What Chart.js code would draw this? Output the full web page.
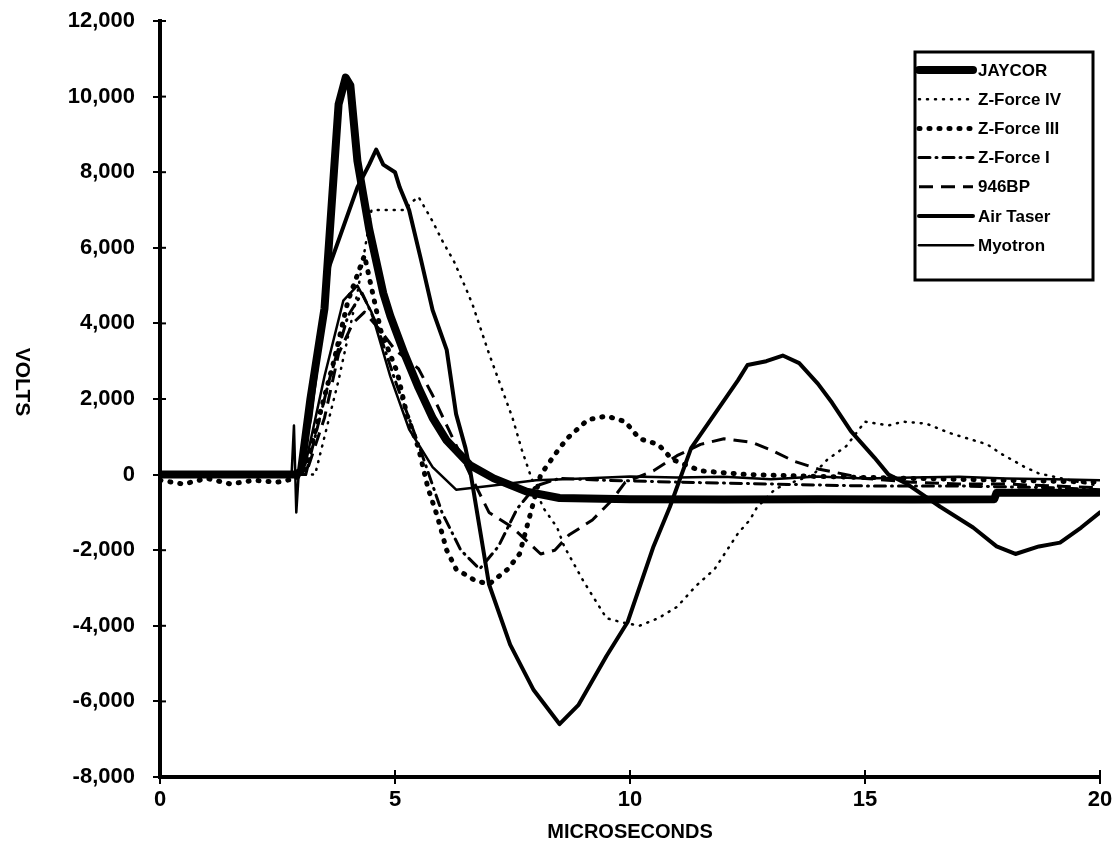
<!DOCTYPE html>
<html>
<head>
<meta charset="utf-8">
<title>Volts vs microseconds</title>
<script src="https://cdn.jsdelivr.net/npm/chart.js@4.4.1/dist/chart.umd.min.js"></script>
<style>
  html, body { margin: 0; padding: 0; background: #fff; }
  #wrap { width: 1120px; height: 861px; }
</style>
</head>
<body>
<div id="wrap"><canvas id="scope" width="1120" height="861"></canvas></div>
<script>
// tick values
var timeTicks = [0, 5, 10, 15, 20];
var voltTicks = [-8000, -6000, -4000, -2000, 0, 2000, 4000, 6000, 8000, 10000, 12000];

var seriesNames = ["JAYCOR", "Z-Force IV", "Z-Force III", "Z-Force I", "946BP", "Air Taser", "Myotron"];

// JAYCOR
var jaycorT = [0, 2.9, 3.0, 3.2, 3.5, 3.8, 3.95, 4.05, 4.2, 4.45, 4.75, 4.9, 5.2, 5.5, 5.8, 6.1, 6.6, 7.1, 7.8, 8.5, 10, 12, 14, 16, 17.75, 17.8, 20];
var jaycorV = [0, 0, 100, 2000, 4400, 9800, 10500, 10300, 8300, 6500, 4800, 4200, 3200, 2300, 1500, 900, 250, -100, -450, -620, -650, -660, -650, -660, -650, -480, -480];

// Z-Force IV
var zf4T = [0, 3.3, 3.8, 4.2, 4.5, 5.2, 5.35, 5.5, 5.8, 6.0, 6.25, 6.5, 6.65, 7.0, 7.5, 7.7, 7.9, 8.15, 8.45, 8.6, 9.0, 9.3, 9.5, 9.8, 10.2, 10.6, 11.0, 11.4, 11.8, 12.3, 12.55, 12.7, 13.1, 13.9, 14.2, 14.6, 15.0, 15.5, 15.8, 16.3, 16.8, 17.2, 17.6, 17.9, 18.4, 18.7, 19.4, 20];
var zf4V = [0, 0, 2500, 4800, 7000, 7000, 7200, 7350, 6700, 6200, 5650, 4950, 4500, 3200, 1500, 650, -80, -870, -1400, -1900, -2800, -3400, -3800, -3900, -4000, -3800, -3500, -2950, -2500, -1550, -1200, -870, -370, 0, 400, 750, 1400, 1300, 1400, 1350, 1100, 950, 800, 550, 200, 30, -160, -300];

// Z-Force III
var zf3T = [0, 0.5, 1.0, 1.5, 2.0, 2.5, 2.9, 3.1, 3.7, 4.0, 4.35, 4.7, 5.05, 5.25, 5.5, 5.7, 5.9, 6.1, 6.3, 6.7, 7.0, 7.4, 7.65, 7.9, 8.1, 8.5, 8.7, 9.1, 9.5, 9.9, 10.2, 10.6, 10.9, 11.5, 12.5, 14, 16, 18, 20];
var zf3V = [-150, -250, -100, -250, -150, -200, -100, 200, 3000, 4600, 5800, 3800, 2700, 1600, 700, -350, -1100, -2000, -2500, -2800, -2900, -2500, -2100, -950, 0, 700, 1000, 1450, 1550, 1400, 950, 800, 400, 100, 0, -50, -100, -150, -200];

// Z-Force I
var zf1T = [0, 3.1, 3.6, 4.0, 4.3, 4.6, 5.0, 5.5, 6.0, 6.4, 6.8, 7.2, 7.6, 8.0, 8.5, 9.5, 11, 13, 15, 17, 19, 20];
var zf1V = [0, 0, 2500, 4200, 4800, 4000, 2500, 800, -1000, -2000, -2500, -1900, -900, -300, -100, -150, -200, -250, -300, -300, -350, -400];

// 946BP
var bp946T = [0, 3.1, 3.5, 3.8, 4.1, 4.35, 4.7, 5.0, 5.5, 5.8, 6.1, 6.6, 7.0, 7.5, 8.1, 8.4, 8.7, 9.2, 9.6, 9.9, 10.5, 11.0, 11.5, 12.0, 12.6, 13.0, 13.5, 14.0, 15.0, 16.0, 17.0, 18.0, 19.0, 20];
var bp946V = [0, 0, 1500, 3200, 4000, 4300, 3800, 3300, 2800, 2100, 1300, 0, -1000, -1400, -2100, -2000, -1600, -1200, -700, -200, 100, 500, 800, 950, 850, 650, 350, 150, -100, -200, -250, -250, -300, -350];

// Air Taser
var airT = [0, 2.95, 3.2, 3.6, 4.2, 4.45, 4.6, 4.75, 5.0, 5.1, 5.3, 5.55, 5.8, 6.1, 6.3, 6.5, 6.6, 7.0, 7.45, 7.95, 8.5, 8.9, 9.5, 9.95, 10.5, 10.85, 11.3, 11.8, 12.3, 12.5, 12.9, 13.25, 13.6, 14.0, 14.3, 14.7, 15.2, 15.5, 15.9, 16.6, 17.3, 17.8, 18.2, 18.7, 19.15, 19.6, 20];
var airV = [0, 0, 1500, 5500, 7600, 8200, 8600, 8200, 8000, 7600, 7000, 5700, 4350, 3300, 1600, 700, 100, -2900, -4500, -5700, -6600, -6100, -4800, -3900, -1900, -850, 700, 1600, 2500, 2900, 3000, 3150, 2950, 2400, 1900, 1150, 450, 0, -250, -850, -1400, -1900, -2100, -1900, -1800, -1400, -1000];

// Myotron
var myoT = [0, 2.8, 2.85, 2.9, 2.95, 3.1, 3.5, 3.9, 4.2, 4.5, 4.9, 5.3, 5.8, 6.3, 7.0, 8.0, 9.0, 10.0, 11.0, 12.0, 13.0, 14.0, 15.0, 16.0, 17.0, 18.0, 19.0, 20];
var myoV = [0, 0, 1300, -1000, 0, 300, 2600, 4600, 5000, 4300, 2600, 1200, 200, -400, -300, -150, -100, -50, -80, -60, -120, -50, -100, -80, -60, -100, -120, -150];

function pts(t, v) {
  return t.map(function(tt, i) { return { x: tt, y: v[i] }; });
}

// line look per trace: width, dash, cap
var styles = [
  { w: 8, dash: [], cap: "round" },
  { w: 2.5, dash: [1, 7], cap: "round" },
  { w: 5, dash: [1, 9], cap: "round" },
  { w: 3, dash: [11, 6, 1, 6], cap: "round" },
  { w: 3, dash: [14, 8], cap: "butt" },
  { w: 4, dash: [], cap: "round" },
  { w: 2.5, dash: [], cap: "round" }
];

var allData = [
  pts(jaycorT, jaycorV),
  pts(zf4T, zf4V),
  pts(zf3T, zf3V),
  pts(zf1T, zf1V),
  pts(bp946T, bp946V),
  pts(airT, airV),
  pts(myoT, myoV)
];

var datasets = allData.map(function(d, i) {
  return {
    label: seriesNames[i],
    data: d,
    borderColor: "#000",
    backgroundColor: "#000",
    borderWidth: styles[i].w,
    borderDash: styles[i].dash,
    borderCapStyle: styles[i].cap,
    borderJoinStyle: "round",
    pointRadius: 0,
    tension: 0,
    fill: false
  };
});

var FONT = "'Liberation Sans', Arial, Helvetica, sans-serif";

// axis titles, inner tick halves and the boxed key
var scopeDecor = {
  id: "scopeDecor",
  afterDraw: function(chart) {
    var ctx = chart.ctx;
    var xs = chart.scales.x, ys = chart.scales.y;
    var area = chart.chartArea;
    ctx.save();
    ctx.strokeStyle = "#000";
    ctx.lineWidth = 2;
    ys.ticks.forEach(function(t) {
      var py = ys.getPixelForValue(t.value);
      ctx.beginPath(); ctx.moveTo(area.left, py); ctx.lineTo(area.left + 6, py); ctx.stroke();
    });
    xs.ticks.forEach(function(t) {
      var px = xs.getPixelForValue(t.value);
      ctx.beginPath(); ctx.moveTo(px, area.bottom); ctx.lineTo(px, area.bottom - 7); ctx.stroke();
    });

    ctx.fillStyle = "#000";
    ctx.font = "bold 20px " + FONT;
    ctx.textAlign = "center";
    ctx.textBaseline = "middle";
    ctx.fillText("MICROSECONDS", (area.left + area.right) / 2, 832);

    ctx.save();
    ctx.translate(22, 382);
    ctx.rotate(Math.PI / 2);
    ctx.font = "bold 21px " + FONT;
    ctx.fillText("VOLTS", 0, 0);
    ctx.restore();

    // key box
    var bx = 915, by = 52, bw = 178, bh = 228;
    ctx.fillStyle = "#fff";
    ctx.fillRect(bx, by, bw, bh);
    ctx.lineWidth = 3;
    ctx.strokeRect(bx, by, bw, bh);
    ctx.font = "bold 17px " + FONT;
    ctx.textAlign = "left";
    ctx.fillStyle = "#000";
    chart.data.datasets.forEach(function(ds, i) {
      var ry = by + 18 + i * 29.2;
      ctx.save();
      ctx.lineWidth = ds.borderWidth;
      ctx.lineCap = ds.borderCapStyle;
      ctx.setLineDash(ds.borderDash);
      ctx.beginPath(); ctx.moveTo(bx + 4, ry); ctx.lineTo(bx + 58, ry); ctx.stroke();
      ctx.restore();
      ctx.fillText(ds.label, bx + 63, ry + 1);
    });
    ctx.restore();
  }
};

new Chart(document.getElementById("scope"), {
  type: "line",
  data: { datasets: datasets },
  plugins: [scopeDecor],
  options: {
    responsive: false,
    animation: false,
    devicePixelRatio: 1,
    layout: { padding: { left: 0, right: 20, top: 21, bottom: 0 } },
    plugins: { legend: { display: false }, tooltip: { enabled: false } },
    scales: {
      x: {
        type: "linear",
        min: 0, max: 20,
        afterBuildTicks: function(s) { s.ticks = timeTicks.map(function(v) { return { value: v }; }); },
        afterFit: function(s) { s.height = 84; s.paddingLeft = 0; s.paddingRight = 0; },
        border: { color: "#000", width: 4 },
        grid: { drawOnChartArea: false, color: "#000", lineWidth: 2, tickLength: 7 },
        ticks: { color: "#000", padding: 3, font: { family: FONT, size: 22, weight: "bold" } }
      },
      y: {
        type: "linear",
        min: -8000, max: 12000,
        afterBuildTicks: function(s) { s.ticks = voltTicks.map(function(v) { return { value: v }; }); },
        afterFit: function(s) { s.width = 160; s.paddingTop = 0; s.paddingBottom = 0; },
        border: { color: "#000", width: 4 },
        grid: { drawOnChartArea: false, color: "#000", lineWidth: 2, tickLength: 7 },
        ticks: {
          color: "#000", padding: 18,
          font: { family: FONT, size: 22, weight: "bold" },
          callback: function(v) { return Number(v).toLocaleString("en-US"); }
        }
      }
    }
  }
});
</script>
</body>
</html>
